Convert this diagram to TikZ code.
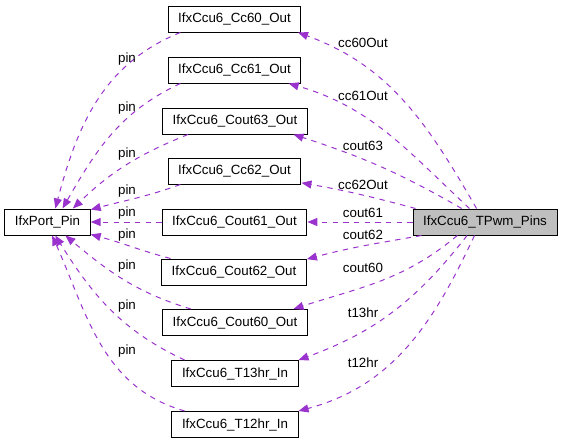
\documentclass[tikz,border=0pt]{standalone}
\usepackage{fontspec}
\setmainfont{Liberation Sans}
\usetikzlibrary{arrows.meta}
\definecolor{orchid}{RGB}{154, 50, 205}
\definecolor{mainfill}{RGB}{191, 191, 191}

\tikzset{
  box/.style={draw=black, fill=white, line width=0.75pt, inner xsep=7.6pt,
    inner ysep=0pt, minimum height=19.5pt, font=\fontsize{10}{12}\selectfont},
  mainbox/.style={box, fill=mainfill},
  link/.style={->, draw=orchid, line width=0.75pt, dash pattern=on 4pt off 4pt},
  lbl/.style={font=\fontsize{10}{12}\selectfont, inner sep=0pt},
}

\begin{document}
\begin{tikzpicture}[x=0.75pt, y=-0.75pt, >={Triangle[length=7.5pt,width=6pt]}]
        \useasboundingbox (0,0) rectangle (563,443);

        \node[box] (port) at (47.5,222) {IfxPort\_Pin};
        \node[mainbox] (tpwm) at (485,222) {IfxCcu6\_TPwm\_Pins};

        \node[box] (cc60) at (234.5,19) {IfxCcu6\_Cc60\_Out};
        \node[box] (cc61) at (234.5,70) {IfxCcu6\_Cc61\_Out};
        \node[box] (cout63) at (235,121) {IfxCcu6\_Cout63\_Out};
        \node[box] (cc62) at (234.5,171) {IfxCcu6\_Cc62\_Out};
        \node[box] (cout61) at (234.5,222) {IfxCcu6\_Cout61\_Out};
        \node[box] (cout62) at (234,272) {IfxCcu6\_Cout62\_Out};
        \node[box] (cout60) at (235,322.5) {IfxCcu6\_Cout60\_Out};
        \node[box] (t13hr) at (235,373.5) {IfxCcu6\_T13hr\_In};
        \node[box] (t12hr) at (235,424.5) {IfxCcu6\_T12hr\_In};

        % members of IfxCcu6_TPwm_Pins
        \draw[link] (tpwm.122) to[out=120, in=-20] (cc60.-12);
        \draw[link] (tpwm.139) to[out=137, in=-16] (cc61.-14);
        \draw[link] (tpwm.150) to[out=150, in=-18] (cout63.-13);
        \draw[link] (tpwm.169) to[out=165, in=-10] (cc62.-10);
        \draw[link] (tpwm.west) -- (cout61.east);
        \draw[link] (tpwm.192) to[out=190, in=15] (cout62.10);
        \draw[link] (tpwm.206) to[out=220, in=18] (cout60.13);
        \draw[link] (tpwm.217) to[out=232, in=20] (t13hr.12);
        \draw[link] (tpwm.232) to[out=245, in=15] (t12hr.12);

        \node[lbl] (l-cc60) at (363,43) {cc60Out};
        \node[lbl] (l-cc61) at (363,96) {cc61Out};
        \node[lbl] (l-cout63) at (363,146) {cout63};
        \node[lbl] (l-cc62) at (363,185) {cc62Out};
        \node[lbl] (l-cout61) at (363,213) {cout61};
        \node[lbl] (l-cout62) at (363,235) {cout62};
        \node[lbl] (l-cout60) at (363,268) {cout60};
        \node[lbl] (l-t13hr) at (363,313) {t13hr};
        \node[lbl] (l-t12hr) at (363,363) {t12hr};

        % pin of every member
        \draw[link] (cc60.194) to[out=202, in=75] (port.60);
        \draw[link] (cc61.194) to[out=205, in=60] (port.42);
        \draw[link] (cout63.196) to[out=202, in=44] (port.28);
        \draw[link] (cc62.194) to[out=200, in=15] (port.16);
        \draw[link] (cout61.west) -- (port.east);
        \draw[link] (cout62.168) to[out=165, in=-15] (port.-16);
        \draw[link] (cout60.163) to[out=163, in=-40] (port.-37);
        \draw[link] (t13hr.165) to[out=155, in=-58] (port.-60);
        \draw[link] (t12hr.165) to[out=164, in=-66] (port.-71);

        \node[lbl] (p-cc60) at (127,59) {pin};
        \node[lbl] (p-cc61) at (127,108) {pin};
        \node[lbl] (p-cout63) at (127,154) {pin};
        \node[lbl] (p-cc62) at (127,191) {pin};
        \node[lbl] (p-cout61) at (127,213) {pin};
        \node[lbl] (p-cout62) at (127,235) {pin};
        \node[lbl] (p-cout60) at (127,266) {pin};
        \node[lbl] (p-t13hr) at (127,306) {pin};
        \node[lbl] (p-t12hr) at (127,351) {pin};
\end{tikzpicture}
\end{document}
